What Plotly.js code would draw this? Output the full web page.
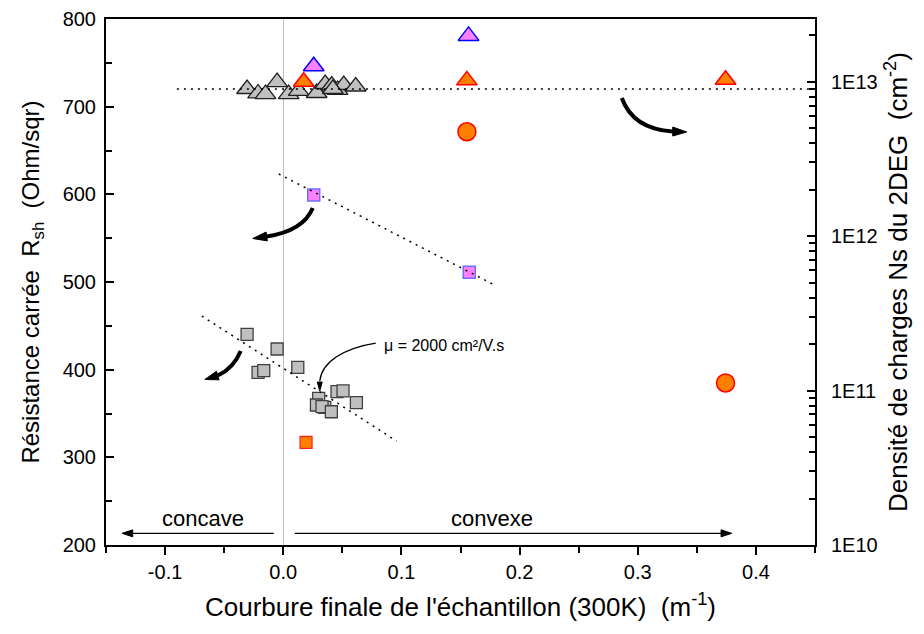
<!DOCTYPE html>
<html><head><meta charset="utf-8">
<script src="https://cdn.plot.ly/plotly-3.0.1.min.js"></script>
<style>html,body{margin:0;padding:0;background:#fff}#chart{width:924px;height:634px}</style>
</head><body><div id="chart"></div>
<script>
// ---- data (x = curvature m^-1) ----
// gray triangles: Ns (cm^-2), right log axis
const triGrayX  = [-0.0306, -0.0213, -0.0150, -0.0052, 0.0046, 0.0131, 0.0283, 0.0355, 0.0410, 0.0460, 0.0512, 0.0613, 0.0420];
const triGrayNs = [8.97e12, 8.39e12, 8.32e12, 9.95e12, 8.32e12, 8.71e12, 8.45e12, 9.66e12, 9.45e12, 8.84e12, 9.52e12, 9.31e12, 8.97e12];
const triOrangeX  = [0.0173, 0.1554, 0.3743];
const triOrangeNs = [1.0e13, 1.02e13, 1.03e13];
const triMagentaX  = [0.0258, 0.1568];
const triMagentaNs = [1.26e13, 1.98e13];
// reference level of Ns
const nsRefX = [-0.09, 0.45];
const nsRefY = [8.96e12, 8.96e12];

// squares: Rsh (Ohm/sqr), left axis
const sqGrayX = [-0.0306, -0.0052, -0.0213, -0.0165, 0.0123, 0.0300, 0.0281, 0.0351, 0.0328, 0.0407, 0.0455, 0.0506, 0.0619];
const sqGrayR = [440.3, 423.6, 397.0, 398.8, 402.7, 367.3, 359.7, 357.0, 357.8, 352.0, 374.9, 375.7, 362.3];
const sqOrangeX = [0.0193];
const sqOrangeR = [317.1];
const sqMagentaX = [0.0258, 0.1574];
const sqMagentaR = [599.2, 511.0];
const circOrangeX = [0.1554, 0.3743];
const circOrangeR = [671.4, 384.8];
// trend lines
const trendMagX = [-0.0038, 0.1805];
const trendMagR = [623.2, 495.4];
const trendGrayX = [-0.0689, 0.0959];
const trendGrayR = [461.2, 318.6];

const xTicks = [-0.1, 0, 0.1, 0.2, 0.3, 0.4];
const xTickText = ['-0.1', '0.0', '0.1', '0.2', '0.3', '0.4'];
const nsTicks = [1e10, 1e11, 1e12, 1e13];
const nsTickText = ['1E10', '1E11', '1E12', '1E13'];

const FONT = 'Liberation Sans, Arial, sans-serif';
const nsMinor = [];
for (let d = 10; d <= 13; d++) for (let m = 2; m <= 9; m++) nsMinor.push(m * Math.pow(10, d));

const traces = [
  {x:sqGrayX, y:sqGrayR, mode:'markers', marker:{symbol:'square', size:12, color:'#c0c0c0', line:{color:'#404040', width:1.3}}},
  {x:sqOrangeX, y:sqOrangeR, mode:'markers', marker:{symbol:'square', size:12, color:'#ff8000', line:{color:'#ff2020', width:1.2}}},
  {x:sqMagentaX, y:sqMagentaR, mode:'markers', marker:{symbol:'square', size:12, color:'#ff80ff', line:{color:'#7070ff', width:1.5}}},
  {x:circOrangeX, y:circOrangeR, mode:'markers', marker:{symbol:'circle', size:18, color:'#ff8000', line:{color:'#ff0000', width:1.5}}},
  {x:trendMagX, y:trendMagR, mode:'lines', line:{color:'#000', width:1.5, dash:'2px,5px'}},
  {x:trendGrayX, y:trendGrayR, mode:'lines', line:{color:'#000', width:1.5, dash:'2px,5px'}},
  {x:triGrayX, y:triGrayNs, yaxis:'y2', mode:'markers', marker:{symbol:'triangle-up', size:18, color:'#c0c0c0', line:{color:'#202020', width:1.3}}},
  {x:triOrangeX, y:triOrangeNs, yaxis:'y2', mode:'markers', marker:{symbol:'triangle-up', size:18, color:'#ff8000', line:{color:'#ff0000', width:1.5}}},
  {x:triMagentaX, y:triMagentaNs, yaxis:'y2', mode:'markers', marker:{symbol:'triangle-up', size:18, color:'#ff80ff', line:{color:'#0000ff', width:1.5}}},
  {x:nsRefX, y:nsRefY, yaxis:'y2', mode:'lines', line:{color:'#000', width:1.5, dash:'2px,5px'}}
];

function curve(p, w) {
  return {type:'path', xref:'x', yref:'y', line:{color:'#000', width:w},
    path:'M'+p[0]+','+p[1]+' C'+p[2]+','+p[3]+' '+p[4]+','+p[5]+' '+p[6]+','+p[7]};
}
function seg(x0, y0, x1, y1, w) {
  return {type:'line', xref:'x', yref:'y', x0:x0, y0:y0, x1:x1, y1:y1, line:{color:'#000', width:w}};
}
function head(t) {
  return {type:'path', xref:'x', yref:'y', line:{color:'#000', width:1}, fillcolor:'#000',
    path:'M'+t[0]+','+t[1]+' L'+t[2]+','+t[3]+' L'+t[4]+','+t[5]+' Z'};
}
const shapes = [
  curve([0.2865,709.9, 0.2932,684.8, 0.3093,673.4, 0.3296,671.7], 4),
  head([0.3414,671.1, 0.3296,676.8, 0.3296,666.5]),
  curve([0.0250,584.4, 0.0190,565.0, 0.0055,555.9, -0.0140,551.9], 4),
  head([-0.0258,549.6, -0.0135,546.9, -0.0145,557.0]),
  curve([-0.0360,421.3, -0.0402,407.6, -0.0470,398.5, -0.0554,393.4], 4),
  head([-0.0664,388.8, -0.0543,388.4, -0.0565,398.2]),
  curve([0.0783,430.4, 0.0512,424.7, 0.0326,408.7, 0.0309,387.1], 1.3),
  head([0.0309,375.7, 0.0288,385.9, 0.0330,385.9]),
  // concave / convexe arrows
  seg(-0.0080, 213.3, -0.1280, 213.3, 1.3),
  head([-0.1364,213.3, -0.1274,217.3, -0.1274,209.3]),
  seg(0.0097, 213.3, 0.3710, 213.3, 1.3),
  head([0.3795,213.3, 0.3705,217.3, 0.3705,209.3])
];

const annotations = [
  {x:-0.0681, y:229.7, xref:'x', yref:'y', text:'concave', showarrow:false, font:{family:FONT, size:22, color:'#000'}},
  {x:0.177, y:229.7, xref:'x', yref:'y', text:'convexe', showarrow:false, font:{family:FONT, size:22, color:'#000'}},
  {x:0.0833, y:428.1, xref:'x', yref:'y', xanchor:'left', text:'\u03bc = 2000 cm\u00b2/V.s', showarrow:false, font:{family:FONT, size:16, color:'#000'}}
];

const layout = {
  width:924, height:634,
  margin:{l:106, r:109, t:19, b:89},
  paper_bgcolor:'#fff', plot_bgcolor:'#fff',
  showlegend:false,
  font:{family:FONT, size:20, color:'#000'},
  xaxis:{range:[-0.15,0.45], tickmode:'array', tickvals:xTicks, ticktext:xTickText,
    ticks:'outside', ticklen:8, tickwidth:2, tickcolor:'#000',
    minor:{tickmode:'array', tickvals:[-0.15,-0.05,0.05,0.15,0.25,0.35,0.45], ticks:'outside', ticklen:6, tickwidth:2, tickcolor:'#000'},
    showline:true, linecolor:'#000', linewidth:2, mirror:true, showgrid:false,
    zeroline:true, zerolinecolor:'#c0c0c0', zerolinewidth:1.5,
    tickfont:{family:FONT, size:20},
    title:{text:"Courbure finale de l'\u00e9chantillon (300K)\u00a0\u00a0(m<sup>-1</sup>)", font:{family:FONT, size:26}, standoff:16}},
  yaxis:{range:[200,800], tickmode:'array', tickvals:[200,300,400,500,600,700,800],
    ticks:'inside', ticklen:8, tickwidth:2, tickcolor:'#000',
    minor:{tickmode:'array', tickvals:[250,350,450,550,650,750], ticks:'inside', ticklen:6, tickwidth:2, tickcolor:'#000'},
    showline:true, linecolor:'#000', linewidth:2, showgrid:false, zeroline:false,
    tickfont:{family:FONT, size:20}, ticklabelstandoff:4,
    title:{text:'R\u00e9sistance carr\u00e9e\u00a0\u00a0R<sub>sh</sub>\u00a0\u00a0(Ohm/sqr)', font:{family:FONT, size:24}, standoff:16}},
  yaxis2:{overlaying:'y', side:'right', type:'log', range:[10,13.406],
    tickmode:'array', tickvals:nsTicks, ticktext:nsTickText,
    ticks:'inside', ticklen:8, tickwidth:2, tickcolor:'#000',
    minor:{tickmode:'array', tickvals:nsMinor, ticks:'inside', ticklen:6, tickwidth:2, tickcolor:'#000'},
    showline:true, linecolor:'#000', linewidth:2, showgrid:false, zeroline:false,
    tickfont:{family:FONT, size:20}, ticklabelstandoff:10,
    title:{text:'Densit\u00e9 de charges Ns du 2DEG\u00a0\u00a0(cm<sup>-2</sup>)', font:{family:FONT, size:26}, standoff:12}},
  shapes:shapes,
  annotations:annotations
};

Plotly.newPlot('chart', traces, layout, {displayModeBar:false, staticPlot:true});
</script>
</body></html>
